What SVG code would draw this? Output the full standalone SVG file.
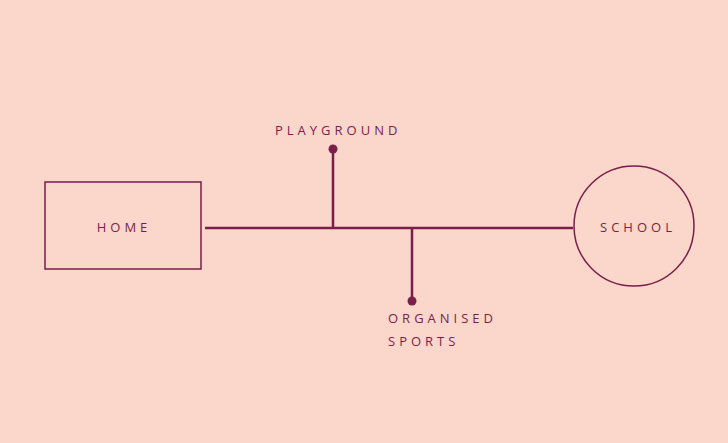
<svg xmlns="http://www.w3.org/2000/svg" width="728" height="443" viewBox="0 0 728 443">
<style>
.t{font-family:"Open Sans","Liberation Sans",sans-serif;font-size:13px;fill:#7a1f4a;letter-spacing:4px}
.s{stroke:#7a1f4a;fill:none}
</style>
<rect width="728" height="443" fill="#fad6cb"/>
<g id="connectors">
<path class="s" stroke-width="2.5" d="M205 228H573M333 149V228M412 228V301"/>
<circle cx="333" cy="149" r="4.5" fill="#7a1f4a"/>
<circle cx="412" cy="301" r="4.5" fill="#7a1f4a"/>
</g>
<g id="home"><rect class="s" stroke-width="1.5" x="45" y="182" width="156" height="87"/><text class="t" x="124" y="232" text-anchor="middle">HOME</text></g>
<g id="school"><circle class="s" stroke-width="1.5" cx="634" cy="226" r="60"/><text class="t" x="638" y="232" text-anchor="middle">SCHOOL</text></g>
<g id="playground"><text class="t" x="275" y="135">PLAYGROUND</text></g>
<g id="sports"><text class="t" x="388" y="323">ORGANISED</text><text class="t" x="388" y="346">SPORTS</text></g>
</svg>
